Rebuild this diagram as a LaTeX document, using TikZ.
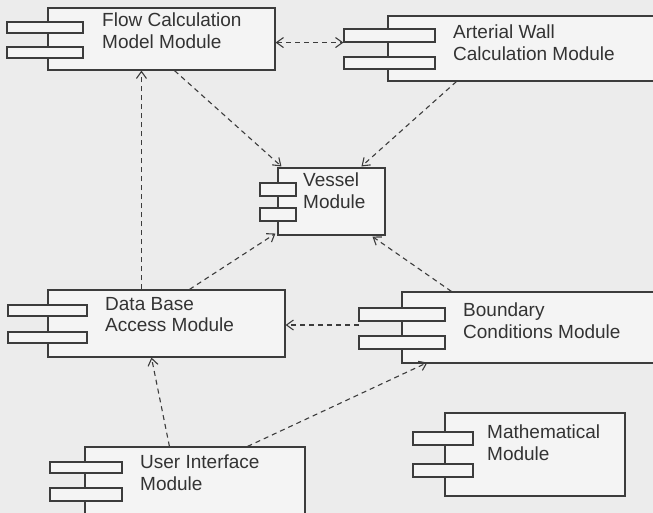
\documentclass[tikz,border=0pt]{standalone}
\usepackage{fontspec}
\setmainfont{Liberation Sans}
\usetikzlibrary{arrows.meta}
\definecolor{lc}{HTML}{3C3C3C}
\definecolor{tc}{HTML}{333333}
\definecolor{bg}{HTML}{ECECEC}
\definecolor{bx}{HTML}{F4F4F4}
\begin{document}
\begin{tikzpicture}[x=1pt,y=-1pt,
  box/.style={draw=lc, line width=1.1pt, fill=bx, inner sep=0pt, minimum width=#1},
  tabbox/.style={draw=lc, line width=1.1pt, fill=bx, inner sep=0pt, minimum width=#1},
  lbl/.style={anchor=north west, inner sep=0pt, align=left, text=tc, font=\fontsize{19}{21.5}\selectfont},
  dep/.style={draw=lc, line width=1.1pt, dash pattern=on 5pt off 4pt, -{Straight Barb[length=7pt,width=10pt]}},
  depb/.style={draw=lc, line width=1.1pt, dash pattern=on 5pt off 4pt, {Straight Barb[length=7pt,width=10pt]}-{Straight Barb[length=7pt,width=10pt]}}
]
\useasboundingbox (0,0) rectangle (653,513);
\clip (0,0) rectangle (653,513);
\fill[bg] (0,0) rectangle (653,513);

% Flow Calculation Model Module
\node[box=227pt, minimum height=62pt] (flow) at (161.5,39) {};
\node[tabbox=76pt, minimum height=11pt] (flowt1) at (45,27.5) {};
\node[tabbox=76pt, minimum height=11pt] (flowt2) at (45,52.5) {};
\node[lbl] (flowl) at (102,13) {Flow Calculation\\Model Module};

% Arterial Wall Calculation Module
\node[box=312pt, minimum height=65pt] (art) at (544,48.5) {};
\node[tabbox=91pt, minimum height=13pt] (artt1) at (389.5,35.5) {};
\node[tabbox=91pt, minimum height=12pt] (artt2) at (389.5,63) {};
\node[lbl] (artl) at (453,25) {Arterial Wall\\Calculation Module};

% Vessel Module
\node[box=107pt, minimum height=67pt] (ves) at (331.5,201.5) {};
\node[tabbox=36pt, minimum height=13pt] (vest1) at (278,189.5) {};
\node[tabbox=36pt, minimum height=13pt] (vest2) at (278,214.5) {};
\node[lbl] (vesl) at (303,173) {Vessel\\Module};

% Data Base Access Module
\node[box=237pt, minimum height=67pt] (db) at (166.5,323.5) {};
\node[tabbox=79pt, minimum height=11pt] (dbt1) at (47.5,310.5) {};
\node[tabbox=79pt, minimum height=11pt] (dbt2) at (47.5,337.5) {};
\node[lbl] (dbl) at (105,297) {Data Base\\Access Module};

% Boundary Conditions Module
\node[box=298pt, minimum height=71pt] (bc) at (551,327.5) {};
\node[tabbox=86pt, minimum height=13pt] (bct1) at (402,314.5) {};
\node[tabbox=86pt, minimum height=13pt] (bct2) at (402,342.5) {};
\node[lbl] (bcl) at (463,303) {Boundary\\Conditions Module};

% User Interface Module
\node[box=220pt, minimum height=113pt] (ui) at (195,503.5) {};
\node[tabbox=72pt, minimum height=11pt] (uit1) at (86,467.5) {};
\node[tabbox=72pt, minimum height=13pt] (uit2) at (86,494.5) {};
\node[lbl] (uil) at (140,455) {User Interface\\Module};

% Mathematical Module
\node[box=180pt, minimum height=83pt] (math) at (535,454.5) {};
\node[tabbox=60pt, minimum height=13pt] (matht1) at (443,438.5) {};
\node[tabbox=60pt, minimum height=13pt] (matht2) at (443,470.5) {};
\node[lbl] (mathl) at (487,425) {Mathematical\\Module};

% connectors
\coordinate (bcin) at (359,325);
\draw[depb] (flow.east |- artt1.south west) -- (artt1.south west);
\draw[dep] ([xshift=94pt]db.north west) -- ([xshift=94pt]flow.south west);
\draw[dep] ([xshift=127pt]flow.south west) -- ([xshift=4pt,yshift=1pt]ves.north west);
\draw[dep] ([xshift=69pt]art.south west) -- ([xshift=84pt,yshift=1pt]ves.north west);
\draw[dep] ([xshift=142pt]db.north west) -- ([xshift=-2pt,yshift=2pt]ves.south west);
\draw[dep] ([xshift=50pt]bc.north west) -- ([xshift=95pt,yshift=-1pt]ves.south west);
\draw[dep] (bcin) -- (db.east |- bcin);
\draw[dep] ([xshift=85pt]ui.north west) -- ([xshift=104pt]db.south west);
\draw[dep] ([xshift=163pt]ui.north west) -- ([xshift=26pt,yshift=1pt]bc.south west);
\end{tikzpicture}
\end{document}
